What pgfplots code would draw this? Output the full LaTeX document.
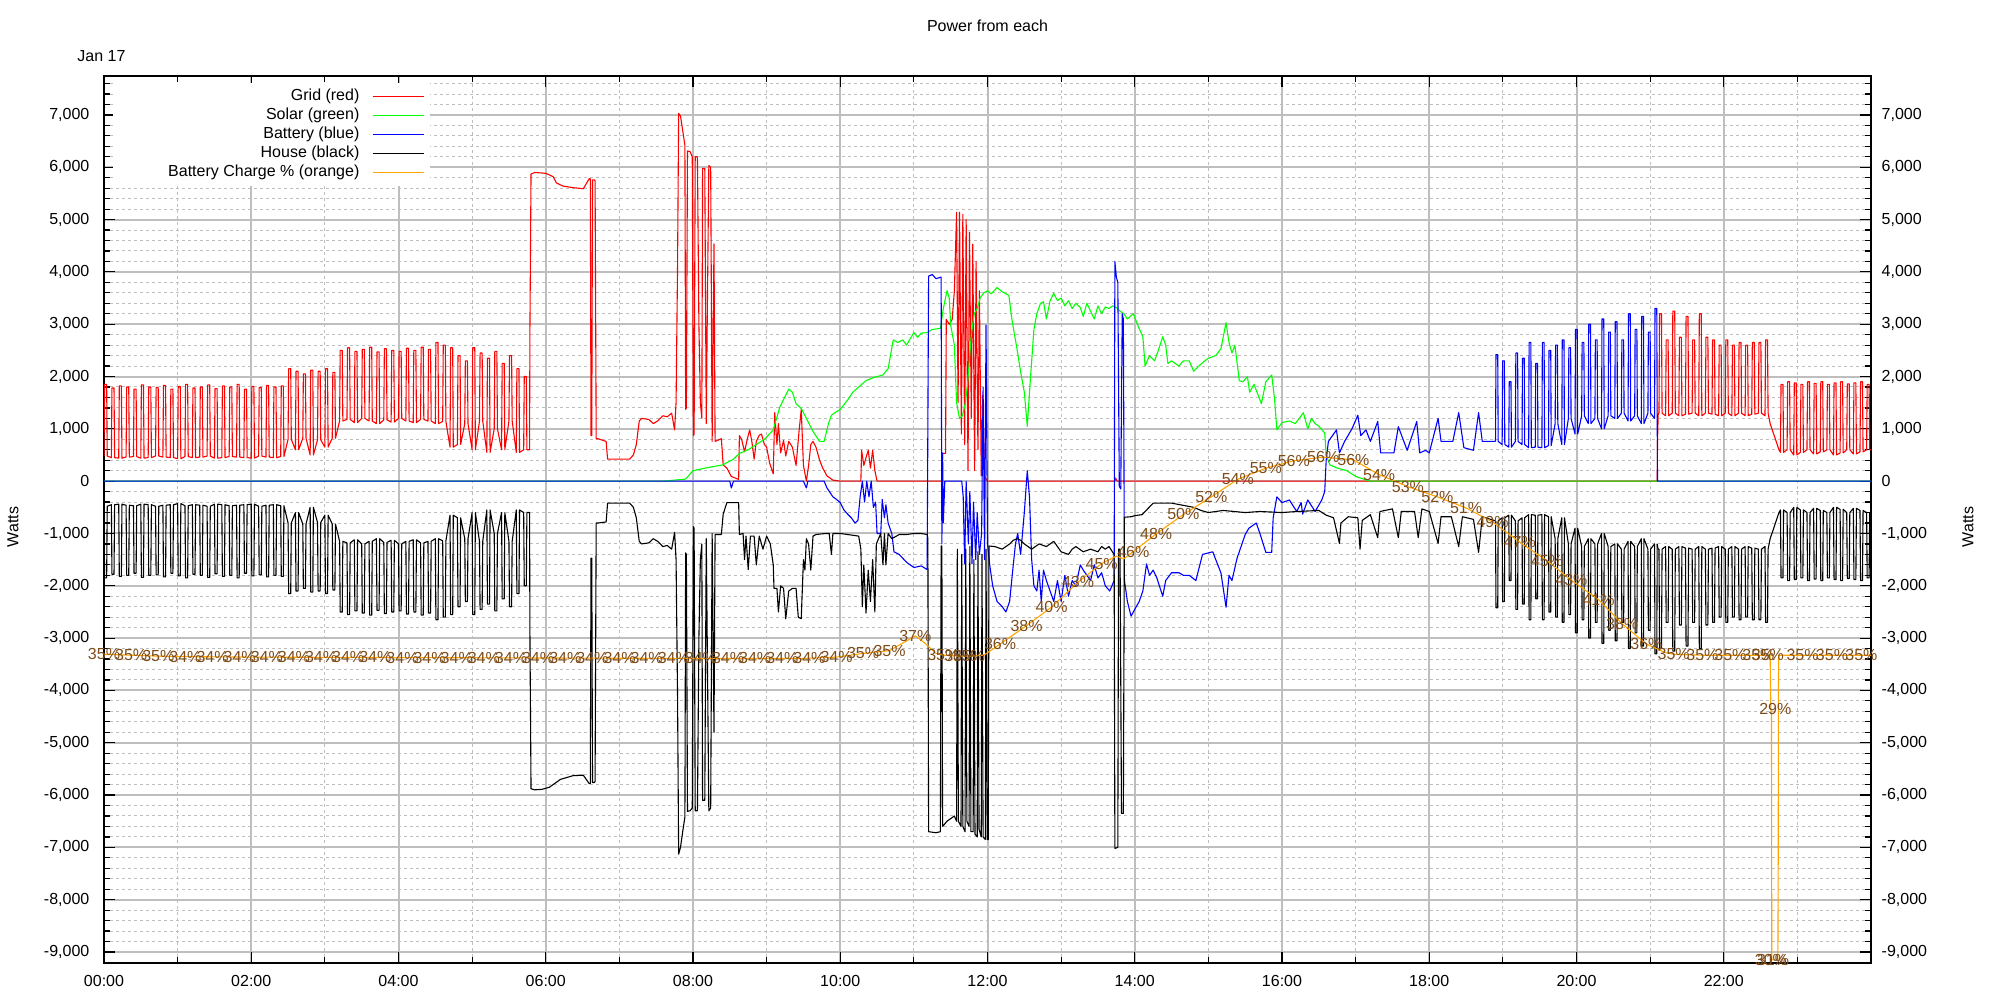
\documentclass[border=0pt]{standalone}
\usepackage{fontspec}
\setmainfont{Liberation Sans}
\usepackage{pgfplots}
\usepackage{pgfplotstable}
\pgfplotsset{compat=1.18}

\definecolor{sgreen}{RGB}{0,255,0}
\definecolor{sorange}{RGB}{255,165,0}
\definecolor{pctbrown}{RGB}{125,75,25}
\definecolor{gridgray}{RGB}{190,190,190}

% night: grid and house mirror each other (t in hours)
\pgfplotstableread[row sep=\\]{
t g h\\
0.000 480 -480\\ 0.008 1850 -1850\\ 0.036 1850 -1850\\ 0.044 480 -480\\
0.100 450 -450\\ 0.108 1780 -1780\\ 0.136 1780 -1780\\ 0.144 450 -450\\
0.200 440 -440\\ 0.208 1820 -1820\\ 0.236 1820 -1820\\ 0.244 440 -440\\
0.300 460 -460\\ 0.308 1800 -1800\\ 0.336 1800 -1800\\ 0.344 460 -460\\
0.400 470 -470\\ 0.408 1760 -1760\\ 0.436 1760 -1760\\ 0.444 470 -470\\
0.500 440 -440\\ 0.508 1840 -1840\\ 0.536 1840 -1840\\ 0.544 440 -440\\
0.600 450 -450\\ 0.608 1800 -1800\\ 0.636 1800 -1800\\ 0.644 450 -450\\
0.700 480 -480\\ 0.708 1790 -1790\\ 0.736 1790 -1790\\ 0.744 480 -480\\
0.800 460 -460\\ 0.808 1830 -1830\\ 0.836 1830 -1830\\ 0.844 460 -460\\
0.900 450 -450\\ 0.908 1760 -1760\\ 0.936 1760 -1760\\ 0.944 450 -450\\
1.000 430 -430\\ 1.008 1810 -1810\\ 1.036 1810 -1810\\ 1.044 430 -430\\
1.100 470 -470\\ 1.108 1850 -1850\\ 1.136 1850 -1850\\ 1.144 470 -470\\
1.200 450 -450\\ 1.208 1780 -1780\\ 1.236 1780 -1780\\ 1.244 450 -450\\
1.300 460 -460\\ 1.308 1800 -1800\\ 1.336 1800 -1800\\ 1.344 460 -460\\
1.400 480 -480\\ 1.408 1840 -1840\\ 1.436 1840 -1840\\ 1.444 480 -480\\
1.500 440 -440\\ 1.508 1770 -1770\\ 1.536 1770 -1770\\ 1.544 440 -440\\
1.600 450 -450\\ 1.608 1820 -1820\\ 1.636 1820 -1820\\ 1.644 450 -450\\
1.700 470 -470\\ 1.708 1800 -1800\\ 1.736 1800 -1800\\ 1.744 470 -470\\
1.800 460 -460\\ 1.808 1850 -1850\\ 1.836 1850 -1850\\ 1.844 460 -460\\
1.900 450 -450\\ 1.908 1760 -1760\\ 1.936 1760 -1760\\ 1.944 450 -450\\
2.000 440 -440\\ 2.008 1810 -1810\\ 2.036 1810 -1810\\ 2.044 440 -440\\
2.100 480 -480\\ 2.108 1790 -1790\\ 2.136 1790 -1790\\ 2.144 480 -480\\
2.200 460 -460\\ 2.208 1830 -1830\\ 2.236 1830 -1830\\ 2.244 460 -460\\
2.300 450 -450\\ 2.308 1800 -1800\\ 2.336 1800 -1800\\ 2.344 450 -450\\
2.400 470 -470\\ 2.408 1820 -1820\\ 2.436 1820 -1820\\ 2.444 470 -470\\
2.500 800 -800\\ 2.508 2150 -2150\\ 2.536 2150 -2150\\ 2.544 800 -800\\
2.600 600 -600\\ 2.608 2100 -2100\\ 2.636 2100 -2100\\ 2.644 600 -600\\
2.700 820 -820\\ 2.708 2050 -2050\\ 2.736 2050 -2050\\ 2.744 820 -820\\
2.800 500 -500\\ 2.808 2120 -2120\\ 2.836 2120 -2120\\ 2.844 500 -500\\
2.900 790 -790\\ 2.908 2100 -2100\\ 2.936 2100 -2100\\ 2.944 790 -790\\
3.000 650 -650\\ 3.008 2150 -2150\\ 3.036 2150 -2150\\ 3.044 650 -650\\
3.100 820 -820\\ 3.108 2080 -2080\\ 3.136 2080 -2080\\ 3.144 820 -820\\
3.200 1150 -1150\\ 3.208 2500 -2500\\ 3.236 2500 -2500\\ 3.244 1150 -1150\\
3.300 1180 -1180\\ 3.308 2550 -2550\\ 3.336 2550 -2550\\ 3.344 1180 -1180\\
3.400 1120 -1120\\ 3.408 2480 -2480\\ 3.436 2480 -2480\\ 3.444 1120 -1120\\
3.500 1200 -1200\\ 3.508 2520 -2520\\ 3.536 2520 -2520\\ 3.544 1200 -1200\\
3.600 1150 -1150\\ 3.608 2560 -2560\\ 3.636 2560 -2560\\ 3.644 1150 -1150\\
3.700 1100 -1100\\ 3.708 2470 -2470\\ 3.736 2470 -2470\\ 3.744 1100 -1100\\
3.800 1170 -1170\\ 3.808 2530 -2530\\ 3.836 2530 -2530\\ 3.844 1170 -1170\\
3.900 1130 -1130\\ 3.908 2500 -2500\\ 3.936 2500 -2500\\ 3.944 1130 -1130\\
4.000 1200 -1200\\ 4.008 2480 -2480\\ 4.036 2480 -2480\\ 4.044 1200 -1200\\
4.100 1150 -1150\\ 4.108 2540 -2540\\ 4.136 2540 -2540\\ 4.144 1150 -1150\\
4.200 1120 -1120\\ 4.208 2500 -2500\\ 4.236 2500 -2500\\ 4.244 1120 -1120\\
4.300 1180 -1180\\ 4.308 2560 -2560\\ 4.336 2560 -2560\\ 4.344 1180 -1180\\
4.400 1150 -1150\\ 4.408 2520 -2520\\ 4.436 2520 -2520\\ 4.444 1150 -1150\\
4.500 1100 -1100\\ 4.508 2650 -2650\\ 4.536 2650 -2650\\ 4.544 1100 -1100\\
4.600 1140 -1140\\ 4.608 2600 -2600\\ 4.636 2600 -2600\\ 4.644 1140 -1140\\
4.700 650 -650\\ 4.708 2550 -2550\\ 4.736 2550 -2550\\ 4.744 650 -650\\
4.800 700 -700\\ 4.808 2400 -2400\\ 4.836 2400 -2400\\ 4.844 700 -700\\
4.900 1100 -1100\\ 4.908 2300 -2300\\ 4.936 2300 -2300\\ 4.944 1100 -1100\\
5.000 600 -600\\ 5.008 2550 -2550\\ 5.036 2550 -2550\\ 5.044 600 -600\\
5.100 1150 -1150\\ 5.108 2450 -2450\\ 5.136 2450 -2450\\ 5.144 1150 -1150\\
5.200 550 -550\\ 5.208 2350 -2350\\ 5.236 2350 -2350\\ 5.244 550 -550\\
5.300 1000 -1000\\ 5.308 2480 -2480\\ 5.336 2480 -2480\\ 5.344 1000 -1000\\
5.400 600 -600\\ 5.408 2250 -2250\\ 5.436 2250 -2250\\ 5.444 600 -600\\
5.500 1150 -1150\\ 5.508 2400 -2400\\ 5.536 2400 -2400\\ 5.544 1150 -1150\\
5.600 550 -550\\ 5.608 2150 -2150\\ 5.636 2150 -2150\\ 5.644 550 -550\\
5.700 600 -600\\ 5.708 2000 -2000\\ 5.736 2000 -2000\\ 5.744 600 -600\\
}\night

% evening: battery and house mirror each other
\pgfplotstableread[row sep=\\]{
t b h\\
18.900 760 -760\\ 18.906 2420 -2420\\ 18.930 2420 -2420\\ 18.936 760 -760\\
18.990 700 -700\\ 18.996 2300 -2300\\ 19.020 2300 -2300\\ 19.026 700 -700\\
19.080 650 -650\\ 19.086 1900 -1900\\ 19.110 1900 -1900\\ 19.116 650 -650\\
19.170 760 -760\\ 19.176 2450 -2450\\ 19.200 2450 -2450\\ 19.206 760 -760\\
19.260 700 -700\\ 19.266 2350 -2350\\ 19.290 2350 -2350\\ 19.296 700 -700\\
19.350 640 -640\\ 19.356 2650 -2650\\ 19.380 2650 -2650\\ 19.386 640 -640\\
19.440 650 -650\\ 19.446 2250 -2250\\ 19.470 2250 -2250\\ 19.476 650 -650\\
19.530 640 -640\\ 19.536 2650 -2650\\ 19.560 2650 -2650\\ 19.566 640 -640\\
19.620 680 -680\\ 19.626 2500 -2500\\ 19.650 2500 -2500\\ 19.656 680 -680\\
19.710 1100 -1100\\ 19.716 2600 -2600\\ 19.740 2600 -2600\\ 19.746 1100 -1100\\
19.800 700 -700\\ 19.806 2700 -2700\\ 19.830 2700 -2700\\ 19.836 700 -700\\
19.890 1200 -1200\\ 19.896 2550 -2550\\ 19.920 2550 -2550\\ 19.926 1200 -1200\\
19.980 900 -900\\ 19.986 2900 -2900\\ 20.010 2900 -2900\\ 20.016 900 -900\\
20.070 1250 -1250\\ 20.076 2650 -2650\\ 20.100 2650 -2650\\ 20.106 1250 -1250\\
20.160 1100 -1100\\ 20.166 3000 -3000\\ 20.190 3000 -3000\\ 20.196 1100 -1100\\
20.250 1200 -1200\\ 20.256 2700 -2700\\ 20.280 2700 -2700\\ 20.286 1200 -1200\\
20.340 1000 -1000\\ 20.346 3100 -3100\\ 20.370 3100 -3100\\ 20.376 1000 -1000\\
20.430 1250 -1250\\ 20.436 2850 -2850\\ 20.460 2850 -2850\\ 20.466 1250 -1250\\
20.520 1200 -1200\\ 20.526 3050 -3050\\ 20.550 3050 -3050\\ 20.556 1200 -1200\\
20.610 1300 -1300\\ 20.616 2700 -2700\\ 20.640 2700 -2700\\ 20.646 1300 -1300\\
20.700 1150 -1150\\ 20.706 3200 -3200\\ 20.730 3200 -3200\\ 20.736 1150 -1150\\
20.790 1250 -1250\\ 20.796 2900 -2900\\ 20.820 2900 -2900\\ 20.826 1250 -1250\\
20.880 1100 -1100\\ 20.886 3150 -3150\\ 20.910 3150 -3150\\ 20.916 1100 -1100\\
20.970 1300 -1300\\ 20.976 2850 -2850\\ 21.000 2850 -2850\\ 21.006 1300 -1300\\
21.060 1200 -1200\\ 21.066 3300 -3300\\ 21.090 3300 -3300\\ 21.096 1200 -1200\\
}\bat

% late evening: grid and house mirror each other
\pgfplotstableread[row sep=\\]{
t g h\\
21.096 0 -1200\\ 21.100 760 -1250\\ 21.110 1300 -1300\\
21.120 1300 -1300\\ 21.128 3200 -3200\\ 21.154 3200 -3200\\ 21.162 1300 -1300\\
21.210 1250 -1250\\ 21.218 2700 -2700\\ 21.244 2700 -2700\\ 21.252 1250 -1250\\
21.300 1300 -1300\\ 21.308 3250 -3250\\ 21.334 3250 -3250\\ 21.342 1300 -1300\\
21.390 1250 -1250\\ 21.398 2750 -2750\\ 21.424 2750 -2750\\ 21.432 1250 -1250\\
21.480 1280 -1280\\ 21.488 3150 -3150\\ 21.514 3150 -3150\\ 21.522 1280 -1280\\
21.570 1300 -1300\\ 21.578 2700 -2700\\ 21.604 2700 -2700\\ 21.612 1300 -1300\\
21.660 1250 -1250\\ 21.668 3200 -3200\\ 21.694 3200 -3200\\ 21.702 1250 -1250\\
21.750 1300 -1300\\ 21.758 2750 -2750\\ 21.784 2750 -2750\\ 21.792 1300 -1300\\
21.840 1280 -1280\\ 21.848 2700 -2700\\ 21.874 2700 -2700\\ 21.882 1280 -1280\\
21.930 1250 -1250\\ 21.938 2600 -2600\\ 21.964 2600 -2600\\ 21.972 1250 -1250\\
22.020 1300 -1300\\ 22.028 2700 -2700\\ 22.054 2700 -2700\\ 22.062 1300 -1300\\
22.110 1250 -1250\\ 22.118 2600 -2600\\ 22.144 2600 -2600\\ 22.152 1250 -1250\\
22.200 1300 -1300\\ 22.208 2650 -2650\\ 22.234 2650 -2650\\ 22.242 1300 -1300\\
22.290 1250 -1250\\ 22.298 2600 -2600\\ 22.324 2600 -2600\\ 22.332 1250 -1250\\
22.380 1280 -1280\\ 22.388 2650 -2650\\ 22.414 2650 -2650\\ 22.422 1280 -1280\\
22.470 1300 -1300\\ 22.478 2650 -2650\\ 22.504 2650 -2650\\ 22.512 1300 -1300\\
22.560 1250 -1250\\ 22.568 2700 -2700\\ 22.594 2700 -2700\\ 22.602 1300 -1300\\
22.630 1100 -1100\\ 22.750 600 -600\\
22.770 550 -550\\ 22.778 1850 -1850\\ 22.804 1850 -1850\\ 22.812 550 -550\\
22.860 600 -600\\ 22.868 1900 -1900\\ 22.894 1900 -1900\\ 22.902 600 -600\\
22.950 500 -500\\ 22.958 1880 -1880\\ 22.984 1880 -1880\\ 22.992 500 -500\\
23.040 550 -550\\ 23.048 1850 -1850\\ 23.074 1850 -1850\\ 23.082 550 -550\\
23.130 600 -600\\ 23.138 1900 -1900\\ 23.164 1900 -1900\\ 23.172 600 -600\\
23.220 520 -520\\ 23.228 1870 -1870\\ 23.254 1870 -1870\\ 23.262 520 -520\\
23.310 560 -560\\ 23.318 1900 -1900\\ 23.344 1900 -1900\\ 23.352 560 -560\\
23.400 600 -600\\ 23.408 1850 -1850\\ 23.434 1850 -1850\\ 23.442 600 -600\\
23.490 500 -500\\ 23.498 1880 -1880\\ 23.524 1880 -1880\\ 23.532 500 -500\\
23.580 540 -540\\ 23.588 1900 -1900\\ 23.614 1900 -1900\\ 23.622 540 -540\\
23.670 600 -600\\ 23.678 1860 -1860\\ 23.704 1860 -1860\\ 23.712 600 -600\\
23.760 520 -520\\ 23.768 1880 -1880\\ 23.794 1880 -1880\\ 23.802 520 -520\\
23.850 560 -560\\ 23.858 1900 -1900\\ 23.884 1900 -1900\\ 23.892 560 -560\\
23.940 600 -600\\ 23.948 1850 -1850\\ 23.974 1850 -1850\\ 23.982 600 -600\\
24.000 600 -600\\
}\eve

% battery charge: line in watt units, labels with their percent
\pgfplotstableread{
t w
0.000 -3310
0.369 -3327
0.737 -3345
1.106 -3354
2.000 -3363
4.000 -3372
6.000 -3380
8.000 -3389
9.500 -3389
9.950 -3363
10.31 -3292
10.67 -3239
11.02 -2956
11.15 -3097
11.30 -3292
11.40 -3327
11.63 -3345
11.75 -3345
11.95 -3327
12.17 -3115
12.53 -2761
12.87 -2407
13.23 -1929
13.55 -1575
13.75 -1433
13.85 -1486
13.98 -1345
14.29 -1009
14.66 -637
15.04 -301
15.40 36
15.78 248
16.16 390
16.56 460
16.97 407
17.32 124
17.71 -106
18.11 -301
18.50 -513
18.86 -779
19.23 -1168
19.60 -1522
19.93 -1894
20.30 -2265
20.62 -2726
20.95 -3115
21.20 -3274
21.32 -3310
21.71 -3327
22.09 -3327
22.47 -3327
22.630 -3327
22.640 -4400
22.648 -4400
22.652 -9150
22.735 -9150
22.740 -7000
22.742 -4000
22.746 -3327
23.07 -3327
23.47 -3327
23.87 -3327
24.00 -3327
}\chg

\pgfplotstableread{
t w p
0.000 -3310 35
0.369 -3327 35
0.737 -3345 35
1.106 -3354 34
1.474 -3358 34
1.843 -3362 34
2.211 -3363 34
2.580 -3365 34
2.948 -3366 34
3.317 -3368 34
3.685 -3370 34
4.054 -3372 34
4.422 -3373 34
4.791 -3375 34
5.159 -3376 34
5.528 -3378 34
5.896 -3380 34
6.265 -3381 34
6.633 -3383 34
7.002 -3384 34
7.370 -3386 34
7.739 -3387 34
8.107 -3389 34
8.476 -3389 34
8.844 -3389 34
9.213 -3389 34
9.581 -3385 34
9.950 -3363 34
10.31 -3292 35
10.67 -3239 35
11.02 -2956 37
11.40 -3327 35
11.63 -3345 35
11.75 -3345 35
12.17 -3115 36
12.53 -2761 38
12.87 -2407 40
13.23 -1929 43
13.55 -1575 45
13.98 -1345 46
14.29 -1009 48
14.66 -637 50
15.04 -301 52
15.40 36 54
15.78 248 55
16.16 390 56
16.56 460 56
16.97 407 56
17.32 124 54
17.71 -106 53
18.11 -301 52
18.50 -513 51
18.86 -779 49
19.23 -1168 47
19.60 -1522 45
19.93 -1894 43
20.30 -2265 41
20.62 -2726 38
20.95 -3115 36
21.32 -3310 35
21.71 -3327 35
22.09 -3327 35
22.47 -3327 35
22.60 -3327 35
22.70 -4350 29
22.64 -9150 30
22.67 -9150 31
23.07 -3327 35
23.47 -3327 35
23.87 -3327 35
}\pct

\begin{document}
\begin{tikzpicture}[font=\fontsize{8}{9.6}\selectfont]
\useasboundingbox (-52pt,-18.5pt) rectangle (948pt,481.5pt);

\begin{axis}[
    scale only axis,
    width=883.5pt, height=443.5pt,
    xmin=0, xmax=24,
    ymin=-9210, ymax=7745,
    xtick={0,2,...,22},
    xticklabels={00:00,02:00,04:00,06:00,08:00,10:00,12:00,14:00,16:00,18:00,20:00,22:00},
    minor xtick={1,3,...,23},
    ytick={-9000,-8000,...,7000},
    yticklabels={{-9,000},{-8,000},{-7,000},{-6,000},{-5,000},{-4,000},{-3,000},{-2,000},{-1,000},0,{1,000},{2,000},{3,000},{4,000},{5,000},{6,000},{7,000}},
    minor ytick={-9000,-8800,...,7600},
    grid=both,
    major grid style={gridgray, line width=1pt},
    minor grid style={gridgray, line width=0.5pt, dash pattern=on 1.5pt off 1.5pt},
    axis line style={line width=0.75pt},
    tick style={black, line width=0.6pt},
    major tick length=5.3pt, minor tick length=2.8pt,
    tick label style={font=\fontsize{8}{9.6}\selectfont},
    xticklabel style={yshift=-2.8pt},
    yticklabel style={xshift=-3.8pt},
    ylabel={Watts},
    every axis y label/.style={at={(axis description cs:-0.0515,0.4915)}, rotate=90, anchor=center},
    clip mode=individual,
    every axis plot/.append style={line width=0.55pt, line join=round},
    legend cell align=right,
    legend plot pos=right,
    legend image code/.code={\draw[#1] (0pt,0pt) -- (25.5pt,0pt);},
    legend style={at={(axis description cs:0.185,0.9921)}, anchor=north east,
        draw=none, fill=white, inner xsep=3pt, inner ysep=2pt,
        font=\fontsize{8}{9.6}\selectfont,
        nodes={inner sep=0pt, text height=6.5pt, text depth=3pt},
        column sep=6.5pt, row sep=0pt},
]

% grid (red)
\addplot[red] table[x=t, y=g] {\night};
\addlegendentry{\makebox[120pt][r]{Grid (red)}}
\addplot[red, forget plot] coordinates {
(5.744,600) (5.78,600) (5.785,2900) (5.80,5870) (5.85,5900) (5.95,5890) (6.01,5880)
(6.10,5820) (6.145,5700) (6.235,5640) (6.37,5610) (6.51,5590) (6.59,5780) (6.605,5780)
(6.615,870) (6.625,870) (6.635,5760) (6.66,5760) (6.67,5740) (6.685,810) (6.71,811)
(6.82,760) (6.84,420) (7.14,422) (7.19,500) (7.23,700) (7.27,1150) (7.30,1200)
(7.40,1180) (7.46,1100) (7.52,1150) (7.59,1250) (7.65,1230) (7.71,1300) (7.75,980)
(7.77,1500) (7.79,4090) (7.805,7030) (7.83,6980) (7.86,6700) (7.89,6420) (7.90,1370)
(7.91,1400) (7.925,6311) (7.96,6300) (7.99,6200) (8.005,870) (8.015,900) (8.03,6200)
(8.06,6200) (8.08,3000) (8.10,1500) (8.12,1200) (8.13,5978) (8.16,5978) (8.18,1100)
(8.195,3300) (8.215,6033) (8.24,6000) (8.26,760) (8.285,4533) (8.30,760) (8.385,811)
(8.41,311) (8.46,250) (8.52,90) (8.62,33) (8.63,870) (8.66,800) (8.70,560) (8.74,820)
(8.77,980) (8.80,750) (8.83,420) (8.86,760) (8.90,880) (8.93,900) (8.97,700) (9.00,650)
(9.04,350) (9.09,140) (9.11,1310) (9.14,700) (9.16,1100) (9.19,540) (9.23,780) (9.26,480)
(9.30,760) (9.35,650) (9.40,300) (9.44,950) (9.47,1370) (9.50,300) (9.54,0) (9.57,300)
(9.60,700) (9.63,760) (9.67,650) (9.72,400) (9.76,255) (9.82,100) (9.90,20) (10.00,0)
(10.28,0) (10.29,590) (10.32,300) (10.35,450) (10.38,590) (10.41,250) (10.44,590)
(10.47,200) (10.50,0) (11.38,0) (11.39,530) (11.43,530) (11.44,3090) (11.48,3000)
(11.52,3090) (11.55,3640) (11.58,5140) (11.60,1500) (11.62,5140) (11.645,900) (11.665,5100)
(11.69,700) (11.71,5000) (11.735,200) (11.755,4760) (11.78,1200) (11.80,4530) (11.825,200)
(11.845,4200) (11.87,600) (11.89,3640) (11.915,100) (11.935,1640) (11.96,90) (12.00,0)
(13.73,0) (13.74,60) (13.76,0) (21.096,0)
};
\addplot[red, forget plot] table[x=t, y=g] {\eve};

% solar (green)
\addplot[sgreen] coordinates {
(0,0) (7.60,0) (7.75,20) (7.90,40) (8.00,200) (8.20,260) (8.40,310) (8.55,420) (8.63,530)
(8.75,600) (8.86,700) (8.97,800) (9.09,980) (9.18,1420) (9.30,1760) (9.35,1700) (9.40,1480)
(9.47,1390) (9.54,1200) (9.63,950) (9.72,760) (9.78,760) (9.84,1100) (9.88,1260) (9.95,1330)
(10.00,1370) (10.10,1550) (10.17,1700) (10.25,1800) (10.35,1920) (10.45,1980) (10.58,2030)
(10.65,2150) (10.72,2700) (10.78,2650) (10.85,2700) (10.90,2600) (11.00,2840) (11.05,2750)
(11.10,2830) (11.18,2840) (11.25,2900) (11.36,2920) (11.40,3300) (11.45,3640) (11.48,3500)
(11.50,2980) (11.55,2600) (11.58,1500) (11.62,1200) (11.66,1250) (11.70,1500) (11.73,1870)
(11.78,2800) (11.82,3200) (11.86,3300) (11.90,3500) (11.95,3600) (12.00,3640) (12.05,3580)
(12.13,3700) (12.20,3620) (12.29,3550) (12.33,3100) (12.40,2530) (12.45,2090) (12.50,1700)
(12.54,1050) (12.58,1900) (12.63,2900) (12.67,3200) (12.72,3400) (12.76,3430) (12.80,3100)
(12.85,3450) (12.90,3590) (12.95,3450) (13.00,3500) (13.05,3350) (13.10,3450) (13.15,3300)
(13.20,3400) (13.26,3320) (13.30,3150) (13.35,3400) (13.40,3250) (13.45,3100) (13.50,3350)
(13.55,3200) (13.60,3330) (13.65,3300) (13.70,3350) (13.75,3320) (13.80,3250) (13.85,3200)
(13.90,3100) (13.98,3200) (14.05,2950) (14.11,2760) (14.14,2200) (14.20,2400) (14.27,2300)
(14.32,2500) (14.38,2760) (14.42,2600) (14.45,2250) (14.50,2300) (14.55,2250) (14.60,2200)
(14.66,2300) (14.74,2300) (14.80,2100) (14.87,2200) (14.95,2300) (15.00,2350) (15.10,2400)
(15.17,2530) (15.24,3030) (15.28,2650) (15.32,2450) (15.36,2600) (15.42,1920) (15.47,1900)
(15.53,2000) (15.56,1700) (15.62,1850) (15.66,1700) (15.72,1480) (15.78,1900) (15.86,2030)
(15.90,1550) (15.93,980) (16.00,1120) (16.10,1150) (16.18,1100) (16.25,1230) (16.29,1310)
(16.35,1000) (16.40,1200) (16.45,1100) (16.50,1050) (16.58,920) (16.60,500) (16.65,310)
(16.75,250) (16.88,200) (17.00,90) (17.15,20) (17.20,0) (24,0)
};
\addlegendentry{\makebox[120pt][r]{Solar (green)}}

% battery (blue)
\addplot[blue] coordinates {
(0,0) (8.50,0) (8.52,-130) (8.55,0) (9.50,0) (9.54,-130) (9.56,0) (9.78,0) (9.82,-130)
(9.90,-300) (9.95,-350) (10.00,-410) (10.05,-550) (10.10,-630) (10.15,-700) (10.20,-800)
(10.24,-750) (10.27,-300) (10.30,0) (10.33,-400) (10.36,0) (10.39,-300) (10.42,0)
(10.45,-500) (10.48,-400) (10.50,-1000) (10.55,-1000) (10.57,-350) (10.60,-700)
(10.62,-450) (10.65,-800) (10.70,-1000) (10.73,-1350) (10.80,-1400) (10.90,-1550)
(11.00,-1650) (11.10,-1620) (11.18,-1690) (11.20,3920) (11.25,3950) (11.30,3870)
(11.37,3900) (11.38,-1200) (11.39,540) (11.40,-800) (11.42,0) (11.65,0) (11.67,-300)
(11.69,-1580) (11.71,0) (11.74,-1200) (11.76,-200) (11.79,-1580) (11.81,-400) (11.84,-1500)
(11.86,-600) (11.89,-1400) (11.92,-1000) (11.94,1800) (11.96,-1500) (11.98,2980)
(12.00,-1200) (12.03,-1600) (12.07,-2000) (12.13,-2300)
(12.20,-2400) (12.25,-2500) (12.30,-2300) (12.35,-1600) (12.38,-1200) (12.41,-1000)
(12.45,-1400) (12.50,-600) (12.54,200) (12.57,-300) (12.60,-1500) (12.63,-2000)
(12.67,-2100) (12.70,-1700) (12.73,-2300) (12.76,-1700) (12.80,-1900) (12.85,-2100)
(12.90,-2300) (12.95,-1900) (13.00,-2300) (13.05,-1800) (13.10,-2200) (13.15,-1900)
(13.20,-2000) (13.26,-1600) (13.30,-1700) (13.35,-1800) (13.40,-1900) (13.45,-1600)
(13.50,-1850) (13.55,-1750) (13.60,-2000) (13.66,-2100) (13.72,-1900) (13.73,4200)
(13.75,3900) (13.77,3800) (13.79,-100) (13.81,-150) (13.83,3200) (13.845,3100)
(13.86,-1900) (13.90,-2300) (13.95,-2580) (14.00,-2450) (14.06,-2300) (14.11,-2100)
(14.16,-1580) (14.20,-1800) (14.25,-1700) (14.30,-1850) (14.38,-2200) (14.42,-1900)
(14.50,-1750) (14.60,-1750) (14.66,-1800) (14.74,-1800) (14.83,-1900) (14.92,-1400)
(15.06,-1350) (15.10,-1500) (15.17,-1750) (15.24,-2410) (15.28,-1800) (15.32,-1900)
(15.39,-1470) (15.50,-1020) (15.55,-900) (15.65,-800) (15.70,-1000) (15.78,-1360)
(15.86,-1360) (15.88,-700) (15.93,-300) (16.00,-410) (16.10,-360) (16.20,-580)
(16.26,-410) (16.28,-630) (16.35,-360) (16.45,-580) (16.54,-360) (16.58,-200) (16.60,400)
(16.63,760) (16.70,900) (16.74,980) (16.78,540) (16.85,760) (16.95,1000) (17.03,1260)
(17.07,870) (17.14,980) (17.20,760) (17.30,1140) (17.34,540) (17.52,540) (17.58,1040)
(17.70,590) (17.83,1140) (17.87,540) (17.95,590) (18.00,540) (18.12,1200) (18.16,760)
(18.32,760) (18.40,1310) (18.47,640) (18.60,590) (18.67,1310) (18.72,760) (18.90,760)
};
\addlegendentry{\makebox[120pt][r]{Battery (blue)}}
\addplot[blue, forget plot] table[x=t, y=b] {\bat};
\addplot[blue, forget plot] coordinates {(21.096,1200) (21.10,0) (24,0)};

% house (black)
\addplot[black] table[x=t, y=h] {\night};
\addlegendentry{\makebox[120pt][r]{House (black)}}
\addplot[black, forget plot] coordinates {
(5.744,-600) (5.78,-600) (5.785,-2900) (5.80,-5880) (5.85,-5900) (5.95,-5890) (6.05,-5850)
(6.20,-5700) (6.37,-5630) (6.51,-5620) (6.59,-5780) (6.605,-5780) (6.615,-1470) (6.625,-1470)
(6.635,-5760) (6.66,-5760) (6.67,-5740) (6.685,-800) (6.71,-800) (6.82,-780) (6.84,-420)
(7.14,-420) (7.19,-500) (7.23,-700) (7.27,-1150) (7.30,-1200) (7.40,-1180) (7.46,-1100)
(7.52,-1150) (7.59,-1250) (7.65,-1230) (7.71,-1300) (7.75,-980) (7.77,-1500) (7.79,-4090)
(7.805,-7130) (7.83,-7000) (7.86,-6700) (7.89,-6420) (7.90,-1370) (7.91,-1400) (7.925,-6311)
(7.96,-6300) (7.99,-6250) (8.005,-870) (8.015,-900) (8.03,-6300) (8.06,-6300) (8.08,-3000)
(8.10,-1500) (8.12,-1200) (8.13,-6100) (8.16,-6100) (8.18,-1100) (8.195,-3300) (8.215,-6300)
(8.24,-6250) (8.26,-1000) (8.285,-4800) (8.30,-1020) (8.385,-1020) (8.41,-630) (8.46,-410)
(8.62,-410) (8.63,-1020) (8.68,-1000) (8.70,-1500) (8.72,-1050) (8.75,-1690) (8.78,-1050)
(8.83,-1050) (8.86,-1600) (8.90,-1050) (8.95,-1300) (9.00,-1050) (9.05,-1200) (9.09,-1600)
(9.10,-2050) (9.14,-2050) (9.16,-2500) (9.19,-2000) (9.23,-2050) (9.26,-2630) (9.30,-2100)
(9.35,-2050) (9.40,-2050) (9.43,-2600) (9.47,-2630) (9.50,-1500) (9.52,-1700) (9.54,-1100)
(9.57,-1200) (9.60,-1700) (9.63,-1050) (9.67,-1020) (9.80,-1000) (9.85,-1000) (9.88,-1400)
(9.90,-1000) (10.00,-1000) (10.10,-1020) (10.25,-1050) (10.28,-1300) (10.30,-2400)
(10.32,-1600) (10.35,-2520) (10.38,-1700) (10.41,-2300) (10.44,-1500) (10.47,-2500)
(10.49,-1200) (10.52,-1100) (10.55,-1000) (10.58,-1600) (10.60,-1000) (10.62,-1600)
(10.65,-1000) (10.70,-1100) (10.80,-1020) (10.90,-1020) (11.00,-1000) (11.10,-1000)
(11.18,-1020) (11.19,-1100) (11.20,-6700) (11.30,-6720) (11.36,-6700) (11.37,-1240)
(11.38,-1240) (11.39,-6600) (11.45,-6500) (11.55,-6400) (11.58,-6500) (11.59,-1300)
(11.605,-6500) (11.64,-6600) (11.65,-1400) (11.665,-6600) (11.695,-6700) (11.705,-1300)
(11.72,-6500) (11.75,-6600) (11.76,-1250) (11.775,-6700) (11.805,-6700) (11.815,-1500)
(11.83,-6750) (11.86,-6800) (11.87,-1350) (11.885,-6650) (11.915,-6800) (11.925,-1400)
(11.94,-6800) (11.97,-6850) (11.98,-1300) (11.995,-6850) (12.01,-6850) (12.02,-1240)
(12.10,-1250) (12.20,-1300)
(12.30,-1200) (12.35,-1130) (12.40,-1100) (12.45,-1130) (12.50,-1200) (12.55,-1250)
(12.60,-1300) (12.65,-1250) (12.70,-1200) (12.80,-1250) (12.85,-1200) (12.90,-1150)
(12.95,-1250) (13.00,-1350) (13.10,-1400) (13.15,-1300) (13.20,-1250) (13.30,-1350)
(13.40,-1300) (13.50,-1350) (13.55,-1250) (13.60,-1300) (13.65,-1250) (13.72,-1400)
(13.73,-7020) (13.77,-7000) (13.78,-1300) (13.80,-1300) (13.82,-6350) (13.845,-6350)
(13.86,-690) (13.95,-680) (14.00,-660) (14.10,-640) (14.25,-420) (14.50,-420) (14.80,-500)
(14.90,-560) (15.00,-600) (15.20,-560) (15.50,-600) (15.70,-580) (16.00,-600) (16.20,-580)
(16.50,-560) (16.60,-650) (16.70,-700) (16.78,-1190) (16.80,-800) (16.90,-680) (17.03,-700)
(17.06,-1300) (17.09,-750) (17.20,-640) (17.30,-1080) (17.33,-580) (17.50,-530) (17.58,-1080)
(17.62,-580) (17.80,-580) (17.85,-1080) (17.90,-530) (18.00,-580) (18.12,-1190) (18.16,-680)
(18.30,-680) (18.40,-1250) (18.45,-680) (18.60,-730) (18.67,-1360) (18.72,-680) (18.90,-760)
};
\addplot[black, forget plot] table[x=t, y=h] {\bat};
\addplot[black, forget plot] table[x=t, y=h] {\eve};

% battery charge (orange)
\addplot[sorange] table[x=t, y=w] {\chg};
\addlegendentry{\makebox[120pt][r]{Battery Charge \% (orange)}}
\addplot[forget plot, only marks, mark=*, mark size=0pt, mark options={draw=none, fill=none},
    point meta=explicit symbolic,
    nodes near coords={\pgfplotspointmeta\%},
    every node near coord/.append style={anchor=center, text=pctbrown, inner sep=0pt,
        font=\fontsize{8}{9.6}\selectfont}]
    table[x=t, y=w, meta=p] {\pct};

\node[anchor=center] at (axis description cs:0.5,1.0569) {Power from each};
\node[anchor=center] at (axis description cs:-0.0014,1.0225) {Jan 17};
\end{axis}

% right-hand axis with the same scale
\begin{axis}[
    scale only axis,
    width=883.5pt, height=443.5pt,
    xmin=0, xmax=24,
    ymin=-9210, ymax=7745,
    hide x axis,
    axis y line*=right,
    y axis line style={draw=none},
    ytick style={draw=none},
    ytick={-9000,-8000,...,7000},
    yticklabels={{-9,000},{-8,000},{-7,000},{-6,000},{-5,000},{-4,000},{-3,000},{-2,000},{-1,000},0,{1,000},{2,000},{3,000},{4,000},{5,000},{6,000},{7,000}},
    tick label style={font=\fontsize{8}{9.6}\selectfont},
    yticklabel style={xshift=1.8pt},
    ylabel={Watts},
    every axis y label/.style={at={(axis description cs:1.0549,0.4915)}, rotate=90, anchor=center},
]
\addplot[draw=none] coordinates {(0,0)};
\end{axis}
\end{tikzpicture}
\end{document}
